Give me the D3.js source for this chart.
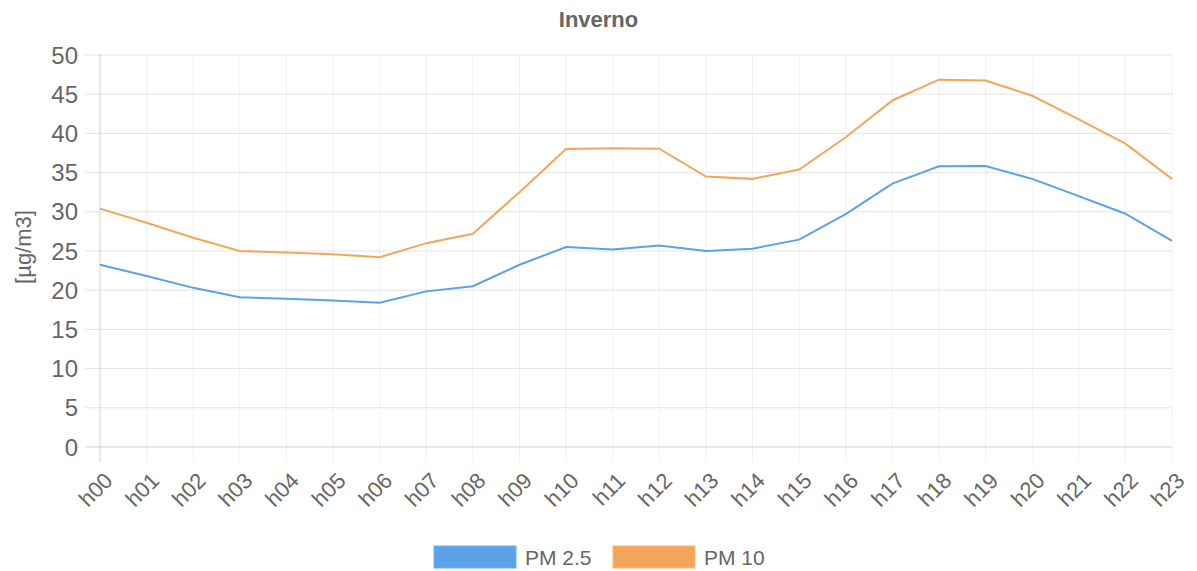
<!DOCTYPE html>
<html>
<head>
<meta charset="utf-8">
<script src="https://cdn.jsdelivr.net/npm/d3@7"></script>
<style>
  body { margin: 0; background: #fff; }
  text { font-family: "Liberation Sans", Arial, sans-serif; fill: #666; }
</style>
</head>
<body>
<div id="chart"></div>
<script>
// data
const hours = ["h00","h01","h02","h03","h04","h05","h06","h07","h08","h09","h10","h11",
               "h12","h13","h14","h15","h16","h17","h18","h19","h20","h21","h22","h23"];
const pm25 = [23.25, 21.8, 20.3, 19.1, 18.9, 18.7, 18.4, 19.85, 20.5, 23.25, 25.5, 25.2,
              25.7, 25.0, 25.3, 26.45, 29.7, 33.6, 35.8, 35.85, 34.2, 32.0, 29.75, 26.3];
const pm10 = [30.4, 28.6, 26.7, 25.0, 24.8, 24.6, 24.2, 26.0, 27.2, 32.5, 38.0, 38.1,
              38.05, 34.5, 34.2, 35.4, 39.5, 44.2, 46.85, 46.75, 44.8, 41.8, 38.7, 34.2];
const seriesNames = ["PM 2.5", "PM 10"];
const yTicks = [0, 5, 10, 15, 20, 25, 30, 35, 40, 45, 50];

const W = 1197, H = 571;
const margin = {top: 55, right: 25, bottom: 124, left: 100};
const width = W - margin.left - margin.right,
      height = H - margin.top - margin.bottom;

const colors = {"PM 2.5": "#5ba2e6", "PM 10": "#f3a65a"};

const svg = d3.select("#chart").append("svg")
    .attr("width", W).attr("height", H);

const g = svg.append("g")
    .attr("transform", `translate(${margin.left}, ${margin.top})`);

const x = d3.scalePoint().domain(hours).range([0, width]);
const y = d3.scaleLinear().domain([0, 50]).range([height, 0]);

// vertical grid (with tick stubs below the zero line)
g.append("g")
  .selectAll("line")
  .data(hours)
  .join("line")
    .attr("x1", d => x(d)).attr("x2", d => x(d))
    .attr("y1", 0).attr("y2", height + 15)
    .attr("stroke", d => d === "h00" ? "rgba(0,0,0,0.18)" : "rgba(0,0,0,0.06)")
    .attr("stroke-width", 1);

// horizontal grid (with tick stubs left of the axis)
g.append("g")
  .selectAll("line")
  .data(yTicks)
  .join("line")
    .attr("x1", -15).attr("x2", width)
    .attr("y1", d => y(d)).attr("y2", d => y(d))
    .attr("stroke", d => d === 0 ? "rgba(0,0,0,0.18)" : "rgba(0,0,0,0.1)")
    .attr("stroke-width", 1);

// y tick labels
g.append("g")
  .selectAll("text")
  .data(yTicks)
  .join("text")
    .attr("x", -22)
    .attr("y", d => y(d))
    .attr("dy", "0.36em")
    .attr("text-anchor", "end")
    .style("font-size", "24px")
    .text(d => d);

// x tick labels, rotated
g.append("g")
  .selectAll("text")
  .data(hours)
  .join("text")
    .attr("transform", d => `translate(${x(d) + 14}, ${height + 35}) rotate(-45)`)
    .attr("text-anchor", "end")
    .style("font-size", "22px")
    .text(d => d);

// lines
const line = d3.line()
  .x((d, i) => x(hours[i]))
  .y(d => y(d));

g.selectAll(".line")
  .data([[seriesNames[0], pm25], [seriesNames[1], pm10]])
  .join("path")
    .attr("fill", "none")
    .attr("stroke", d => colors[d[0]])
    .attr("stroke-width", 2)
    .attr("d", d => line(d[1]));

// title
svg.append("text")
  .attr("x", W / 2).attr("y", 27)
  .attr("text-anchor", "middle")
  .style("font-size", "22px").style("font-weight", "bold")
  .text("Inverno");

// y axis title
svg.append("text")
  .attr("transform", `translate(31, ${margin.top + height / 2 - 4}) rotate(-90)`)
  .attr("text-anchor", "middle")
  .style("font-size", "22px")
  .text("[µg/m3]");

// legend
const legend = svg.append("g");
const legendX = [434, 613];
seriesNames.forEach((name, i) => {
  legend.append("rect")
    .attr("x", legendX[i]).attr("y", 546)
    .attr("width", 82).attr("height", 22)
    .attr("fill", colors[name])
    .attr("stroke", d3.color(colors[name]).brighter(0.3))
    .attr("stroke-width", 1);
  legend.append("text")
    .attr("x", legendX[i] + 91).attr("y", 557)
    .attr("dy", "0.36em")
    .style("font-size", "21px")
    .text(name);
});
</script>
</body>
</html>
